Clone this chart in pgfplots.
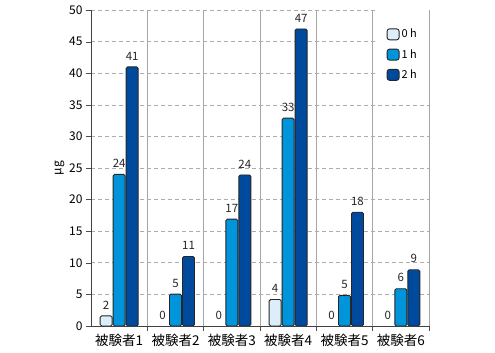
\documentclass[border=0pt]{standalone}
\usepackage{pgfplots}
\pgfplotsset{compat=1.18}
\usepackage{fontspec}
\setmainfont{Noto Sans CJK JP}
\definecolor{c0}{HTML}{DDEEFB}
\definecolor{c1}{HTML}{0095DA}
\definecolor{c2}{HTML}{004A9E}
\begin{document}
\begin{tikzpicture}
\useasboundingbox (0,0) rectangle (495pt,353pt);
\begin{axis}[
  at={(91pt,27pt)}, anchor=south west,
  width=338pt, height=316pt, scale only axis,
  xmin=-0.5, xmax=5.5, ymin=0, ymax=50,
  ybar, bar width=12pt,
  axis x line=bottom, axis y line=left,
  axis line style={-, black!75, line width=0.8pt},
  xtick={0,...,5},
  xticklabels={被験者1,被験者2,被験者3,被験者4,被験者5,被験者6},
  minor xtick={0.5,1.5,...,5.5},
  xminorgrids, minor x grid style={gray!70, line width=0.7pt},
  major x tick style={draw=none},
  minor x tick style={black!70, line width=0.7pt},
  minor tick length=5pt,
  tick align=outside,
  ytick={0,5,...,50},
  ymajorgrids, y grid style={gray!65, dash pattern=on 4pt off 3pt, line width=0.6pt},
  major y tick style={black!70},
  major tick length=5pt,
  /pgf/number format/assume math mode=true,
  x tick label style={font=\fontsize{13.5}{15}\selectfont, yshift=0pt},
  y tick label style={font=\fontsize{12}{14}\selectfont},
  ylabel={μg}, ylabel style={font=\fontsize{12}{14}\selectfont, yshift=-2pt},
  nodes near coords, point meta=explicit symbolic,
  every node near coord/.append style={font=\fontsize{11.5}{13}\selectfont, black!85, yshift=3pt},
  legend style={at={(1,1)}, anchor=north east, fill=white, draw=none,
    font=\fontsize{11}{13}\selectfont, inner xsep=10pt, inner ysep=17pt,
    row sep=6pt, cells={anchor=west}},
  legend image code/.code={\draw[#1, rounded corners=2.5pt, line width=0.9pt] (0pt,-5.5pt) rectangle (12pt,5.5pt);},
]
\addplot[fill=c0, draw=black!85, line width=0.9pt, rounded corners=1.5pt, bar shift=-13pt]
  coordinates {(0,1.6)[2] (3,4.2)[4]};
\addplot[fill=c1, draw=black!85, line width=0.9pt, rounded corners=1.5pt, bar shift=0pt]
  coordinates {(0,24)[24] (1,5.05)[5] (2,16.9)[17] (3,32.9)[33] (4,4.85)[5] (5,5.9)[6]};
\addplot[fill=c2, draw=black!85, line width=0.9pt, rounded corners=1.5pt, bar shift=13pt]
  coordinates {(0,41)[41] (1,11)[11] (2,23.9)[24] (3,47)[47] (4,18)[18] (5,8.9)[9]};
\addplot[draw=none, fill=none, bar shift=-13pt, forget plot]
  coordinates {(1,0)[0] (2,0)[0] (4,0)[0] (5,0)[0]};
\legend{0 h,1 h,2 h}
\end{axis}
\end{tikzpicture}
\end{document}
